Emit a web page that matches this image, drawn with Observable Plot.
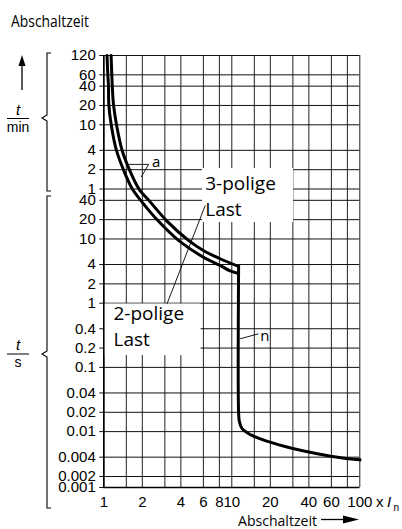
<!DOCTYPE html>
<html><head><meta charset="utf-8">
<script src="https://cdn.jsdelivr.net/npm/d3@7"></script>
<script src="https://cdn.jsdelivr.net/npm/@observablehq/plot@0.6"></script>
<style>
html,body{margin:0;padding:0;background:#fff;}
#chart{width:402px;height:529px;overflow:hidden;}
</style></head><body><div id="chart"></div>
<script>
// ---- tick values ----
const minuteTicks = [120, 60, 40, 20, 10, 4, 2, 1];            // t / min
const secondTicks = [40, 20, 10, 4, 2, 1, 0.4, 0.2, 0.1, 0.04, 0.02, 0.01, 0.004, 0.002, 0.001]; // t / s
const xTickLabels = [1, 2, 4, 6, 8, 10, 20, 40, 60, 100];
const xGridValues = [1, 1.5, 2, 3, 4, 6, 8, 10, 15, 20, 30, 40, 60, 80, 100];

// ---- curves: x in multiples of In, t in seconds ----
const innerX = [1.06, 1.075, 1.088, 1.094, 1.142, 1.256, 1.431, 1.664, 1.991, 2.666, 3.836, 6.0, 8.1, 9.7, 11.3];
const innerT = [7200, 3600, 2400, 1245, 608, 239, 117, 61, 37.5, 19, 9.5, 5.2, 3.87, 3.18, 2.9];
const outerX = [1.14, 1.155, 1.165, 1.19, 1.256, 1.391, 1.594, 1.873, 2.311, 3.115, 4.59, 6.0, 8.1, 11.3];
const outerT = [7200, 3600, 2400, 1245, 608, 239, 117, 61, 37.5, 19, 9.5, 6.6, 4.92, 3.73];
const tailX = [11.3, 11.3, 11.45, 12.0, 13.9, 18.8, 30.5, 46.5, 71, 100];
const tailT = [3.73, 0.02, 0.0145, 0.0112, 0.00901, 0.0071, 0.0054, 0.00452, 0.00391, 0.00364];

// ---- annotations (data coordinates) ----
const labelText = ["3-polige", "Last", "2-polige", "Last", "a", "n"];
const labelX = [6.2, 6.2, 1.19, 1.19, 2.38, 16.7];
const labelT = [57, 23.2, 0.557, 0.219, 132, 0.262];
const labelSize = [19, 19, 19, 19, 15, 15];
const leaderX1 = [6.2, 2.24, 2.24, 16.2];
const leaderT1 = [33.3, 145, 145, 0.334];
const leaderX2 = [3.12, 1.50, 1.956, 11.6];
const leaderT2 = [0.98, 145, 91.8, 0.279];
const boxX1 = [5.9, 1], boxX2 = [30.4, 5.75], boxT1 = [18, 0.153], boxT2 = [125, 0.97];

const pts = (xs, ts) => xs.map((x, i) => ({x, t: ts[i]}));
const yTicks = [
  ...minuteTicks.map(m => ({t: m * 60, label: String(m)})),
  ...secondTicks.map(s => ({t: s, label: String(s)}))
];
const labels = labelText.map((s, i) => ({s, x: labelX[i], t: labelT[i], size: labelSize[i]}));
const leaders = leaderX1.map((x, i) => ({x1: x, t1: leaderT1[i], x2: leaderX2[i], t2: leaderT2[i]}));
const boxes = boxX1.map((x, i) => ({x1: x, x2: boxX2[i], t1: boxT1[i], t2: boxT2[i]}));

const svg = Plot.plot({
  width: 402,
  height: 529,
  x: {type: "log", domain: [1, 100], range: [103.3, 359.3], axis: null},
  y: {type: "log", domain: [0.001, 0.002, 7200], range: [487, 476, 55], axis: null},
  style: {background: "#fff", color: "#000", fontFamily: "'Liberation Sans', Arial, sans-serif"},
  marks: [
    Plot.ruleX(xGridValues, {x: d => d, y1: () => 0.001, y2: () => 7200, stroke: "#222", strokeWidth: 1}),
    Plot.ruleY(yTicks, {y: "t", x1: () => 0.93, x2: () => 100, stroke: "#111", strokeWidth: 1}),
    Plot.rect(boxes, {x1: "x1", x2: "x2", y1: "t1", y2: "t2", fill: "#fff"}),
    Plot.ruleX([1], {x: d => d, y1: () => 0.001, y2: () => 7200, stroke: "#000", strokeWidth: 1.6}),
    Plot.ruleY([0.001], {y: d => d, x1: () => 1, x2: () => 100, stroke: "#000", strokeWidth: 1.6}),
    Plot.text(yTicks, {x: () => 1, y: "t", text: "label", textAnchor: "end", dx: -8, fontSize: 15}),
    Plot.text(xTickLabels, {x: d => d, y: () => 0.001, dy: 15, text: d => String(d), fontSize: 15}),
    Plot.link(leaders, {x1: "x1", y1: "t1", x2: "x2", y2: "t2", stroke: "#000", strokeWidth: 0.9}),
    Plot.line(pts(innerX, innerT), {x: "x", y: "t", curve: "catmull-rom", stroke: "#000", strokeWidth: 3}),
    Plot.line(pts(outerX, outerT), {x: "x", y: "t", curve: "catmull-rom", stroke: "#000", strokeWidth: 3}),
    Plot.line(pts(tailX, tailT), {x: "x", y: "t", curve: "catmull-rom", stroke: "#000", strokeWidth: 3, strokeLinecap: "square"}),
    Plot.text(labels, {x: "x", y: "t", text: "s", textAnchor: "start", lineAnchor: "bottom", fontSize: "size", fontFamily: "'Open Sans', sans-serif"})
  ]
});

// decorations outside the plotting frame
const s = d3.select(svg);
const g = s.append("g").attr("stroke", "#000").attr("fill", "none");
g.append("line").attr("x1", 22).attr("x2", 22).attr("y1", 90).attr("y2", 64).attr("stroke-width", 1.3);
g.append("path").attr("d", "M22,55L18.5,66L25.5,66Z").attr("fill", "#000").attr("stroke", "none");
g.append("path").attr("d", "M51,53H47V115L42,118L47,121V191H51").attr("stroke-width", 1.1);
g.append("path").attr("d", "M51,196H47V351L42,354L47,357V508H51").attr("stroke-width", 1.1);
g.append("line").attr("x1", 7).attr("x2", 29).attr("y1", 118.5).attr("y2", 118.5).attr("stroke-width", 1);
g.append("line").attr("x1", 7).attr("x2", 29).attr("y1", 354).attr("y2", 354).attr("stroke-width", 1);
g.append("line").attr("x1", 321).attr("x2", 345).attr("y1", 519.5).attr("y2", 519.5).attr("stroke-width", 1.3);
g.append("path").attr("d", "M359,519.5L343,515.5L343,523.5Z").attr("fill", "#000").attr("stroke", "none");

const t = s.append("g").attr("fill", "#000").attr("text-anchor", "start").attr("font-family", "'Liberation Sans', Arial, sans-serif");
t.append("text").attr("x", 18).attr("y", 115).attr("text-anchor", "middle").attr("font-size", 15).attr("font-style", "italic").text("t");
t.append("text").attr("x", 18).attr("y", 131.5).attr("text-anchor", "middle").attr("font-size", 14).text("min");
t.append("text").attr("x", 18).attr("y", 350).attr("text-anchor", "middle").attr("font-size", 15).attr("font-style", "italic").text("t");
t.append("text").attr("x", 18).attr("y", 367).attr("text-anchor", "middle").attr("font-size", 14).text("s");
t.append("text").attr("x", 376).attr("y", 506.8).attr("font-size", 15).text("x");
t.append("text").attr("x", 387).attr("y", 506.8).attr("font-size", 15).attr("font-style", "italic").text("I");
t.append("text").attr("x", 393.5).attr("y", 510.5).attr("font-size", 10).text("n");
t.append("text").attr("x", 11).attr("y", 26.7).attr("font-size", 15.5).attr("font-family", "'Open Sans', sans-serif")
  .attr("textLength", 78).attr("lengthAdjust", "spacingAndGlyphs").text("Abschaltzeit");
t.append("text").attr("x", 238).attr("y", 525.5).attr("font-size", 15).attr("font-family", "'Open Sans', sans-serif")
  .attr("textLength", 79).attr("lengthAdjust", "spacingAndGlyphs").text("Abschaltzeit");

document.getElementById("chart").appendChild(svg);
</script>
</body></html>
